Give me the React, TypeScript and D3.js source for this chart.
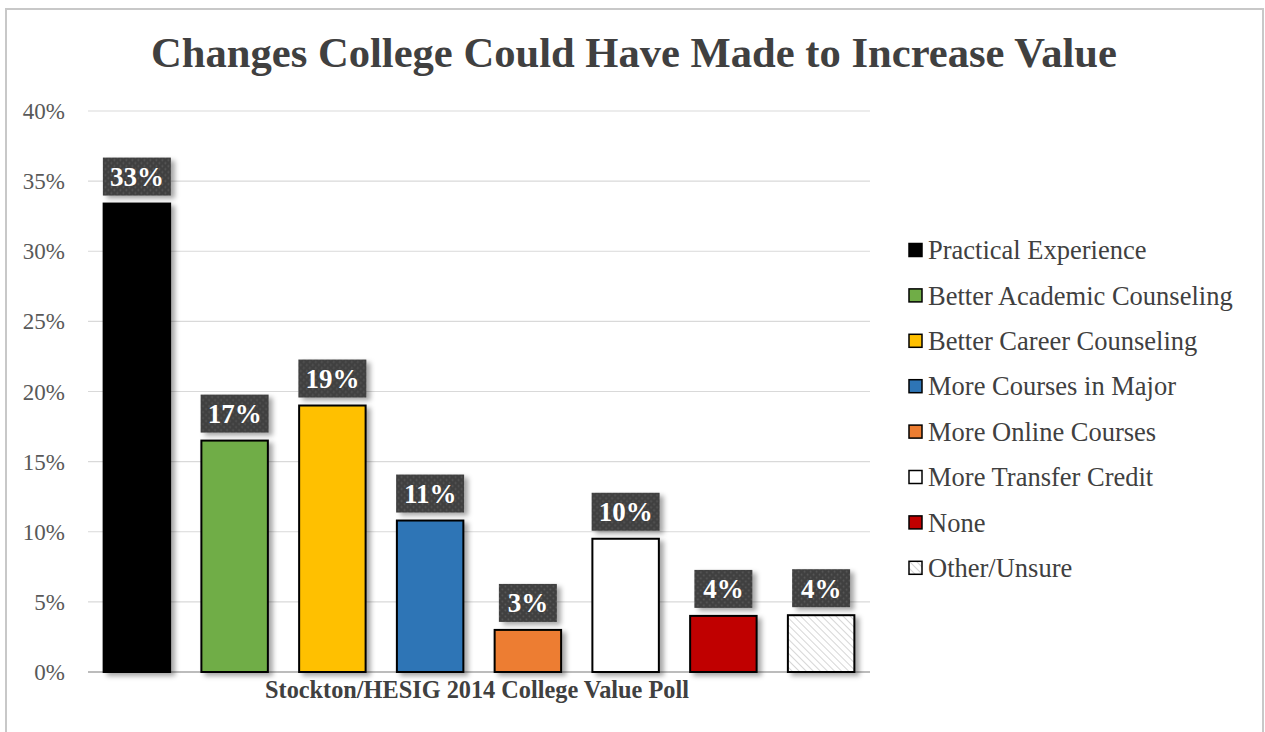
import React, { useEffect, useRef } from "react";
import * as d3 from "d3";

const categories = [
  "Practical Experience",
  "Better Academic Counseling",
  "Better Career Counseling",
  "More Courses in Major",
  "More Online Courses",
  "More Transfer Credit",
  "None",
  "Other/Unsure",
];
const values = [33.4, 16.5, 19.0, 10.8, 3.0, 9.5, 4.0, 4.05];
const labels = ["33%", "17%", "19%", "11%", "3%", "10%", "4%", "4%"];
const colors = ["#000000", "#70ad47", "#ffc000", "#2e75b6", "#ed7d31", "#ffffff", "#c00000", "url(#hatch)"];
const yTicks = [0, 5, 10, 15, 20, 25, 30, 35, 40];
const title = "Changes College Could Have Made to Increase Value";
const xTitle = "Stockton/HESIG 2014 College Value Poll";

const W = 1265;
const H = 732;
const FONT = "'Liberation Serif', 'Times New Roman', serif";

export default function App() {
  const ref = useRef<SVGSVGElement>(null);
  useEffect(() => {
    const svg = d3.select(ref.current);
    svg.selectAll("*").remove();

    const defs = svg.append("defs");
    const hatch = defs.append("pattern").attr("id", "hatch").attr("patternUnits", "userSpaceOnUse")
      .attr("width", 5).attr("height", 5).attr("patternTransform", "rotate(-45)");
    hatch.append("rect").attr("width", 5).attr("height", 5).attr("fill", "#ffffff");
    hatch.append("line").attr("x1", 0).attr("y1", 0).attr("x2", 0).attr("y2", 5)
      .attr("stroke", "#d6d6d6").attr("stroke-width", 2);

    const dots = defs.append("pattern").attr("id", "dots").attr("patternUnits", "userSpaceOnUse")
      .attr("width", 6).attr("height", 6);
    dots.append("rect").attr("width", 6).attr("height", 6).attr("fill", "#404040");
    dots.append("circle").attr("cx", 1.5).attr("cy", 1.5).attr("r", 0.9).attr("fill", "#5a5a5a");
    dots.append("circle").attr("cx", 4.5).attr("cy", 4.5).attr("r", 0.9).attr("fill", "#5a5a5a");

    const sh = defs.append("filter").attr("id", "shadow").attr("x", "-20%").attr("y", "-20%")
      .attr("width", "150%").attr("height", "150%");
    sh.append("feDropShadow").attr("dx", 4).attr("dy", 3).attr("stdDeviation", 2.5)
      .attr("flood-color", "#000").attr("flood-opacity", 0.35);

    // frame
    svg.append("rect").attr("width", W).attr("height", H).attr("fill", "#fff");
    svg.append("path").attr("d", `M6,${H + 5} L6,9 L1263,9 L1263,${H + 5}`)
      .attr("fill", "none").attr("stroke", "#c8c8c8").attr("stroke-width", 2);

    const x = d3.scaleBand<string>().domain(categories).range([88, 870]).paddingInner(0.32).paddingOuter(0.16);
    const y = d3.scaleLinear().domain([0, 40]).range([672, 111]);

    // grid
    svg.append("g").selectAll("line").data(yTicks).join("line")
      .attr("x1", 88).attr("x2", 870)
      .attr("y1", (d) => y(d)).attr("y2", (d) => y(d))
      .attr("stroke", (d) => (d === 0 ? "#a6a6a6" : "#d9d9d9"))
      .attr("stroke-width", (d) => (d === 0 ? 1.5 : 1.2));

    // y labels
    svg.append("g").selectAll("text").data(yTicks).join("text")
      .attr("x", 65).attr("y", (d) => y(d)).attr("dy", "0.35em")
      .attr("text-anchor", "end").attr("font-family", FONT).attr("font-size", 23)
      .attr("fill", "#595959").text((d) => `${d}%`);

    // bars
    svg.append("g").selectAll("rect").data(categories).join("rect")
      .attr("x", (d) => x(d)!).attr("y", (_, i) => y(values[i]))
      .attr("width", x.bandwidth()).attr("height", (_, i) => y(0) - y(values[i]))
      .attr("fill", (_, i) => colors[i]).attr("stroke", "#000").attr("stroke-width", 2)
      .attr("filter", "url(#shadow)");

    // data labels
    const lg = svg.append("g").selectAll("g").data(categories).join("g")
      .attr("transform", (d, i) => `translate(${x(d)! + x.bandwidth() / 2},${y(values[i]) - 27})`);
    lg.append("rect")
      .attr("x", (_, i) => (labels[i].length > 2 ? -34 : -29))
      .attr("width", (_, i) => (labels[i].length > 2 ? 68 : 58))
      .attr("y", -19).attr("height", 38)
      .attr("fill", "url(#dots)").attr("filter", "url(#shadow)");
    lg.append("text").attr("text-anchor", "middle").attr("dy", "0.35em")
      .attr("font-family", FONT).attr("font-weight", "bold").attr("font-size", 27)
      .attr("fill", "#fff").text((_, i) => labels[i]);

    // title
    svg.append("text").attr("x", 634).attr("y", 67).attr("text-anchor", "middle")
      .attr("font-family", FONT).attr("font-weight", "bold").attr("font-size", 42.6)
      .attr("fill", "#404040").text(title);

    // x title
    svg.append("text").attr("x", 477).attr("y", 698).attr("text-anchor", "middle")
      .attr("font-family", FONT).attr("font-weight", "bold").attr("font-size", 24.3)
      .attr("fill", "#404040").text(xTitle);

    // legend
    const leg = svg.append("g").selectAll("g").data(categories).join("g")
      .attr("transform", (_, i) => `translate(908,${250 + i * 45.4})`);
    leg.append("rect").attr("x", 1).attr("y", -6.5).attr("width", 13).attr("height", 13)
      .attr("fill", (_, i) => colors[i]).attr("stroke", "#000").attr("stroke-width", 1.5);
    leg.append("text").attr("x", 20).attr("dy", "0.35em")
      .attr("font-family", FONT).attr("font-size", 26.5).attr("fill", "#404040")
      .text((d) => d);
  }, []);

  return (
    <svg ref={ref} width={W} height={H}
      style={{ position: "absolute", left: 0, top: 0, display: "block" }} />
  );
}
